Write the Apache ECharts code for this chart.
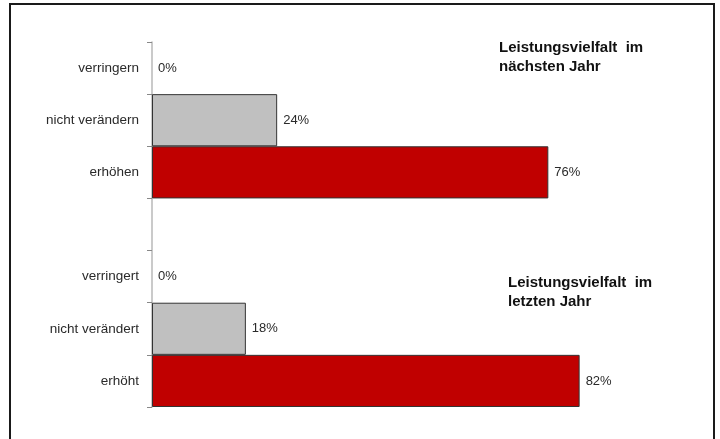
<!DOCTYPE html>
<html>
<head>
<meta charset="utf-8">
<script src="https://cdn.jsdelivr.net/npm/echarts@6/dist/echarts.min.js"></script>
<style>html,body{margin:0;padding:0;background:#fff}#c{width:720px;height:439px}</style>
</head>
<body>
<div id="c"></div>
<script>
var categories = ['verringern', 'nicht verändern', 'erhöhen', '', 'verringert', 'nicht verändert', 'erhöht'];
var values = [0, 24, 76, null, 0, 18, 82];
var barColors = ['#C0C0C0', '#C0C0C0', '#C00000', '#C0C0C0', '#C0C0C0', '#C0C0C0', '#C00000'];
var titles = ['Leistungsvielfalt  im\nnächsten Jahr', 'Leistungsvielfalt  im\nletzten Jahr'];

var chart = echarts.init(document.getElementById('c'), null, {renderer: 'canvas'});
var font = 'Liberation Sans, Arial, sans-serif';
var data = values.map(function (v, i) {
  return {
    value: v,
    itemStyle: {color: barColors[i], borderColor: '#333', borderWidth: v ? 1 : 0},
    label: {show: v !== null}
  };
});
chart.setOption({
  animation: false,
  backgroundColor: '#fff',
  title: [
    {text: titles[0], left: 499, top: 38, padding: 0, textStyle: {fontFamily: font, fontSize: 15, fontWeight: 'bold', color: '#111', lineHeight: 19}},
    {text: titles[1], left: 508, top: 273, padding: 0, textStyle: {fontFamily: font, fontSize: 15, fontWeight: 'bold', color: '#111', lineHeight: 19}}
  ],
  graphic: [{
    type: 'rect', silent: true,
    shape: {x: 10, y: 4, width: 704, height: 480},
    style: {fill: 'none', stroke: '#1a1a1a', lineWidth: 2}
  }],
  grid: {left: 152, top: 42, right: 46.5, bottom: 32},
  xAxis: {
    type: 'value', min: 0, max: 100,
    axisLine: {show: false}, axisTick: {show: false}, axisLabel: {show: false}, splitLine: {show: false}
  },
  yAxis: {
    type: 'category', inverse: true, data: categories,
    axisLine: {show: true, lineStyle: {color: '#b8b8b8', width: 1.5}},
    axisTick: {show: true, length: 5, lineStyle: {color: '#888'}},
    axisLabel: {fontFamily: font, fontSize: 13.5, color: '#2a2a2a', margin: 13}
  },
  series: [{
    type: 'bar',
    data: data,
    barCategoryGap: '0%',
    label: {position: 'right', distance: 6, fontFamily: font, fontSize: 13, color: '#2a2a2a', formatter: '{c}%'}
  }]
});
</script>
</body>
</html>
